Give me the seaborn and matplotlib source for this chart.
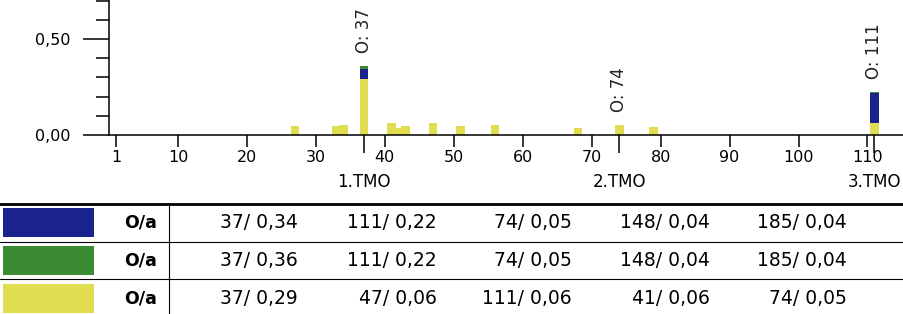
import matplotlib
matplotlib.use("Agg")
import matplotlib.pyplot as plt
from matplotlib.patches import Rectangle
import numpy as np
import pandas as pd
import seaborn as sns

# bar data (position on x axis, height)
yellow_pos = [27, 33, 34, 37, 41, 42, 43, 47, 51, 56, 68, 74, 79, 111]
yellow_val = [0.045, 0.045, 0.05, 0.29, 0.06, 0.034, 0.046, 0.064, 0.046, 0.053, 0.034, 0.054, 0.04, 0.062]
blue_pos = [37, 74, 111, 148, 185]
blue_val = [0.343, 0.05, 0.218, 0.04, 0.04]
green_pos = [37, 74, 111, 148, 185]
green_val = [0.36, 0.05, 0.224, 0.04, 0.04]

tmo_pos = [37, 74, 111]
tmo_labels = ["1.TMO", "2.TMO", "3.TMO"]
x_ticks = [1, 10, 20, 30, 40, 50, 60, 70, 80, 90, 100, 110]

# table data (top five per series)
blue_top_pos = [37, 111, 74, 148, 185]
blue_top_val = [0.34, 0.22, 0.05, 0.04, 0.04]
green_top_pos = [37, 111, 74, 148, 185]
green_top_val = [0.36, 0.22, 0.05, 0.04, 0.04]
yellow_top_pos = [37, 47, 111, 41, 74]
yellow_top_val = [0.29, 0.06, 0.06, 0.06, 0.05]

colors = {"green": "#3b8a34", "blue": "#1a238c", "yellow": "#e0de50"}

sns.set_theme(style="ticks")
plt.rcParams["font.family"] = ["DejaVu Sans"]
plt.rcParams["text.color"] = "black"

df = pd.concat([
    pd.DataFrame({"pos": green_pos, "val": green_val, "s": "green"}),
    pd.DataFrame({"pos": blue_pos, "val": blue_val, "s": "blue"}),
    pd.DataFrame({"pos": yellow_pos, "val": yellow_val, "s": "yellow"}),
])

fig = plt.figure(figsize=(9.04, 3.14), dpi=100)
ax = fig.add_axes([109 / 904, 1 - 135 / 314, 1 - 109 / 904, 135 / 314])

sns.barplot(data=df, x="pos", y="val", hue="s", hue_order=["green", "blue", "yellow"],
            palette=colors, native_scale=True, dodge=False, width=1.25,
            saturation=1, linewidth=0, errorbar=None, legend=False, ax=ax)

ax.set_xlim(0, 115.3)
ax.set_ylim(0, 0.703)
ax.set_xlabel("")
ax.set_ylabel("")
sns.despine(ax=ax)
for sp in ["left", "bottom"]:
    ax.spines[sp].set_linewidth(1.1)
    ax.spines[sp].set_color("black")

ax.set_yticks([0, 0.5])
ax.set_yticklabels(["0,00", "0,50"])
ax.set_yticks([0.1, 0.2, 0.3, 0.4, 0.6, 0.7], minor=True)
ax.tick_params(axis="y", which="major", length=18.5, width=1.1, pad=9,
               labelsize=11.5, colors="black")
ax.tick_params(axis="y", which="minor", length=9.5, width=1.1, colors="black")

ax.set_xticks(x_ticks)
ax.set_xticklabels([str(t) for t in x_ticks])
ax.set_xticks(tmo_pos, minor=True)
ax.set_xticklabels(tmo_labels, minor=True)
ax.tick_params(axis="x", which="major", length=8.4, width=1.1, pad=2.4,
               labelsize=11.5, colors="black")
ax.tick_params(axis="x", which="minor", length=13.2, width=1.1, pad=14,
               labelsize=12, colors="black")

# rotated labels above the TMO bars
for p in tmo_pos:
    top = max([v for q, v in zip(yellow_pos + blue_pos + green_pos,
                                 yellow_val + blue_val + green_val) if q == p])
    ax.annotate(f"O: {p}", (p, top), xytext=(0, 9), textcoords="offset points",
                rotation=90, ha="center", va="bottom", fontsize=12, color="#222222")

# table below the chart, pixel coordinates
tab = fig.add_axes([0, 0, 1, (314 - 202.7) / 314])
tab.set_xlim(0, 904)
tab.set_ylim(314, 202.7)
tab.axis("off")

tab.plot([0, 904], [203.8, 203.8], color="black", lw=2.0, clip_on=False)
for yl in [241.7, 279.3]:
    tab.plot([0, 904], [yl, yl], color="black", lw=0.8)
tab.plot([169.3, 169.3], [203, 314], color="black", lw=0.8, clip_on=False)

rows = [
    ("blue", blue_top_pos, blue_top_val, 208),
    ("green", green_top_pos, green_top_val, 246),
    ("yellow", yellow_top_pos, yellow_top_val, 284),
]
col_x = [298, 437, 572, 710, 847]
for name, tp, tv, y0 in rows:
    tab.add_patch(Rectangle((3, y0), 91, 29, color=colors[name], lw=0))
    yc = y0 + 14
    tab.text(157, yc, "O/a", ha="right", va="center", fontsize=12.5, fontweight="bold")
    for cx, p, v in zip(col_x, tp, tv):
        tab.text(cx, yc, f"{p}/ {v:.2f}".replace(".", ","), ha="right", va="center",
                 fontsize=13.5)

fig.savefig("out.png", dpi=100)
